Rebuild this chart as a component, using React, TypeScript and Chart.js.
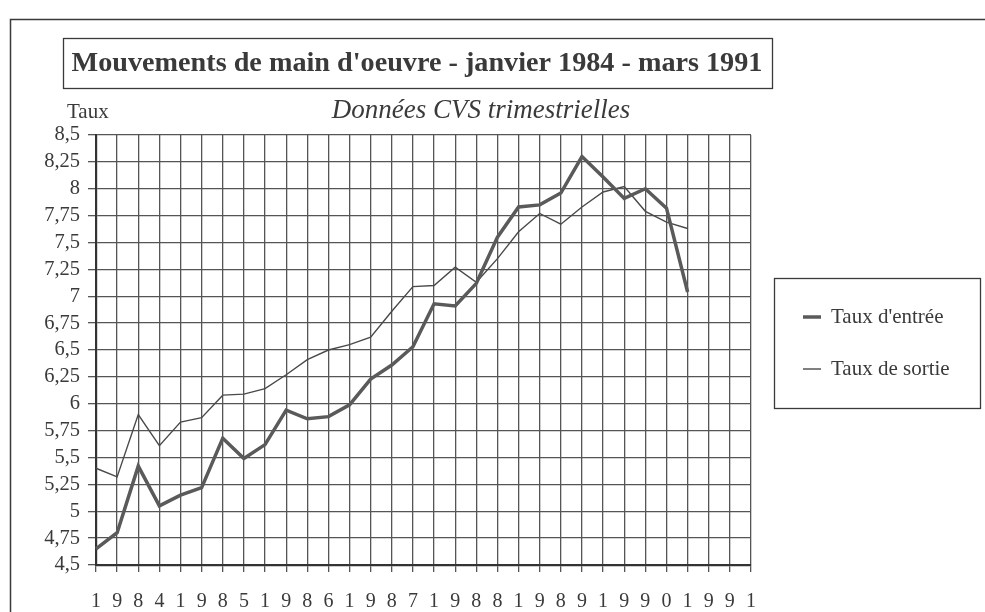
import React, { useEffect, useRef } from 'react';
import { Chart, registerables } from 'chart.js';

Chart.register(...registerables);

// Year labels (written one digit per quarter tick, as in the original)
const years = ['1984', '1985', '1986', '1987', '1988', '1989', '1990', '1991'];
const tickLabels = years.join('').split('');

// Quarterly seasonally adjusted rates, 1984 Q1 – 1991 Q1
const tauxEntree = [
  4.65, 4.80, 5.42, 5.05, 5.15, 5.22, 5.68, 5.49, 5.62, 5.94, 5.86, 5.88, 5.99, 6.23, 6.36,
  6.53, 6.93, 6.91, 7.12, 7.55, 7.83, 7.85, 7.96, 8.30, 8.11, 7.91, 8.00, 7.82, 7.04,
];
const tauxSortie = [
  5.40, 5.32, 5.90, 5.61, 5.83, 5.87, 6.08, 6.09, 6.14, 6.27, 6.41, 6.50, 6.55, 6.62, 6.86,
  7.09, 7.10, 7.27, 7.13, 7.35, 7.60, 7.77, 7.67, 7.83, 7.97, 8.02, 7.79, 7.69, 7.63,
];

const seriesNames = ["Taux d'entrée", 'Taux de sortie'];
const yMin = 4.5;
const yMax = 8.5;
const yStep = 0.25;

const titleText = "Mouvements de main d'oeuvre - janvier 1984 - mars 1991";
const subtitleText = 'Données CVS trimestrielles';
const yAxisTitle = 'Taux';

const INK = '#3a3a3a';
const SERIF = '"Liberation Serif", "Times New Roman", serif';

const decorPlugin = {
  id: 'decor',
  afterDraw(chart: any) {
    const ctx = chart.ctx as CanvasRenderingContext2D;
    ctx.save();
    ctx.strokeStyle = INK;
    ctx.fillStyle = INK;

    // outer frame (top + left visible)
    ctx.lineWidth = 1.5;
    ctx.beginPath();
    ctx.moveTo(10.5, 612);
    ctx.lineTo(10.5, 19.5);
    ctx.lineTo(985, 19.5);
    ctx.stroke();

    // title box
    ctx.lineWidth = 1.3;
    ctx.strokeRect(63.5, 38.5, 709, 50);
    ctx.font = `bold 28.2px ${SERIF}`;
    ctx.textAlign = 'center';
    ctx.textBaseline = 'middle';
    ctx.fillText(titleText, 417, 64);

    // y-axis title and subtitle
    ctx.font = `21px ${SERIF}`;
    ctx.textAlign = 'left';
    ctx.fillText(yAxisTitle, 67, 112);
    ctx.font = `italic 27px ${SERIF}`;
    ctx.textAlign = 'center';
    ctx.fillText(subtitleText, 481, 111);

    // legend box
    ctx.lineWidth = 1.3;
    ctx.strokeRect(774.5, 278.5, 206, 130);
    const rows = [317, 369];
    chart.data.datasets.forEach((ds: any, i: number) => {
      ctx.strokeStyle = ds.borderColor;
      ctx.lineWidth = ds.borderWidth;
      ctx.beginPath();
      ctx.moveTo(803, rows[i]);
      ctx.lineTo(821, rows[i]);
      ctx.stroke();
      ctx.fillStyle = INK;
      ctx.font = `21px ${SERIF}`;
      ctx.textAlign = 'left';
      ctx.textBaseline = 'middle';
      ctx.fillText(ds.label, 831, rows[i]);
    });
    ctx.restore();
  },
};

export default function App() {
  const ref = useRef<HTMLCanvasElement | null>(null);

  useEffect(() => {
    if (!ref.current) return;
    const chart = new Chart(ref.current, {
      type: 'line',
      data: {
        labels: tickLabels,
        datasets: [
          {
            label: seriesNames[0],
            data: tauxEntree,
            borderColor: '#5a5a5a',
            borderWidth: 3.5,
            pointRadius: 0,
            tension: 0,
            fill: false,
          },
          {
            label: seriesNames[1],
            data: tauxSortie,
            borderColor: '#4a4a4a',
            borderWidth: 1.4,
            pointRadius: 0,
            tension: 0,
            fill: false,
          },
        ],
      },
      options: {
        animation: false,
        responsive: false,
        devicePixelRatio: 1,
        layout: { padding: { left: 0, right: 234, top: 135, bottom: 0 } },
        plugins: {
          legend: { display: false },
          tooltip: { enabled: false },
          title: { display: false },
        },
        scales: {
          x: {
            type: 'category',
            offset: false,
            grid: {
              offset: false,
              color: '#555',
              lineWidth: 1.3,
              tickLength: 7,
              drawOnChartArea: true,
            },
            border: { color: '#333', width: 2.2 },
            ticks: {
              autoSkip: false,
              maxRotation: 0,
              minRotation: 0,
              padding: 18,
              color: INK,
              font: { family: SERIF, size: 20 },
            },
            afterFit(scale: any) {
              scale.height = 47;
            },
          },
          y: {
            min: yMin,
            max: yMax,
            grid: { color: '#555', lineWidth: 1.3, tickLength: 8 },
            border: { color: '#333', width: 2.2 },
            ticks: {
              stepSize: yStep,
              autoSkip: false,
              padding: 8,
              color: INK,
              font: { family: SERIF, size: 20.5 },
              callback: (v: any) => String(Math.round(Number(v) * 100) / 100).replace('.', ','),
            },
            afterFit(scale: any) {
              scale.width = 96;
            },
          },
        },
      },
      plugins: [decorPlugin],
    });
    return () => chart.destroy();
  }, []);

  return (
    <div style={{ position: 'absolute', left: 0, top: 0, width: 985, height: 612, background: '#fff' }}>
      <canvas ref={ref} width={985} height={612} />
    </div>
  );
}
